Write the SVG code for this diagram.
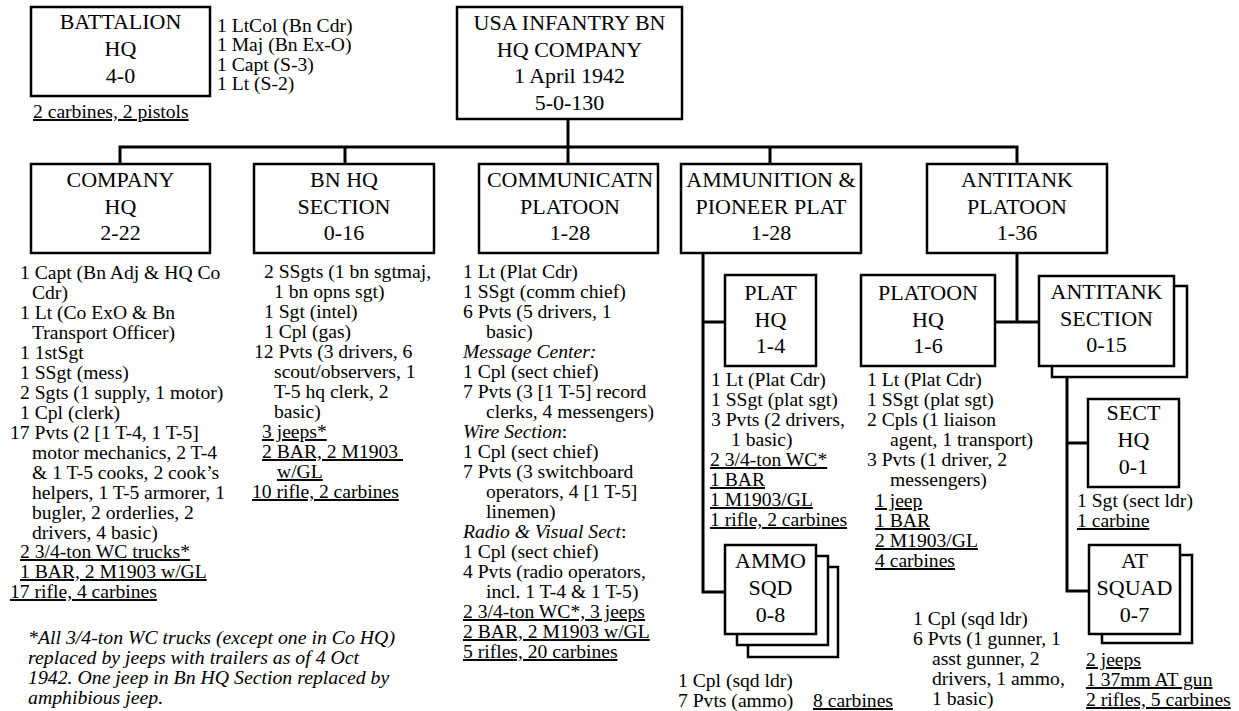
<svg xmlns="http://www.w3.org/2000/svg" width="1239" height="711" viewBox="0 0 1239 711">
<rect width="1239" height="711" fill="#fff"/>
<g id="connectors" stroke="#000" stroke-width="3" fill="none" stroke-linecap="square">
<path d="M568 119V147M120 147H1017M120 147V164M345 147V164M568 147V164M770 147V164M1017 147V164"/>
<path d="M703 253V592H725M703 322H725"/>
<path d="M1017 253V322M995 322H1039"/>
<path d="M1067 377V591H1089M1067 443H1088"/>
</g>
<g id="battalion-hq">
<rect x="31" y="7" width="179" height="89" fill="#fff" stroke="#000" stroke-width="2.5"/>
<text x="120.5" y="29" font-family="Liberation Serif" font-size="22" text-anchor="middle">BATTALION</text>
<text x="120.5" y="56" font-family="Liberation Serif" font-size="22" text-anchor="middle">HQ</text>
<text x="120.5" y="83" font-family="Liberation Serif" font-size="22" text-anchor="middle">4-0</text>
<text x="217" y="31.5" font-family="Liberation Serif" font-size="19.6">1 LtCol (Bn Cdr)</text>
<text x="217" y="51" font-family="Liberation Serif" font-size="19.6">1 Maj (Bn Ex-O)</text>
<text x="217" y="70.5" font-family="Liberation Serif" font-size="19.6">1 Capt (S-3)</text>
<text x="217" y="90" font-family="Liberation Serif" font-size="19.6">1 Lt (S-2)</text>
<text x="33" y="118" font-family="Liberation Serif" font-size="19.6" text-decoration="underline">2 carbines, 2 pistols</text>
</g>
<g id="hq-company">
<rect x="457" y="7" width="225" height="112" fill="#fff" stroke="#000" stroke-width="2.5"/>
<text x="569.5" y="30" font-family="Liberation Serif" font-size="22" text-anchor="middle">USA INFANTRY BN</text>
<text x="569.5" y="57" font-family="Liberation Serif" font-size="22" text-anchor="middle">HQ COMPANY</text>
<text x="569.5" y="83" font-family="Liberation Serif" font-size="22" text-anchor="middle">1 April 1942</text>
<text x="569.5" y="110" font-family="Liberation Serif" font-size="22" text-anchor="middle">5-0-130</text>
</g>
<g id="company-hq">
<rect x="31" y="164" width="179" height="89" fill="#fff" stroke="#000" stroke-width="2.5"/>
<text x="120.5" y="187" font-family="Liberation Serif" font-size="22" text-anchor="middle">COMPANY</text>
<text x="120.5" y="213.5" font-family="Liberation Serif" font-size="22" text-anchor="middle">HQ</text>
<text x="120.5" y="240" font-family="Liberation Serif" font-size="22" text-anchor="middle">2-22</text>
<text x="20" y="279" font-family="Liberation Serif" font-size="19.6">1 Capt (Bn Adj &amp; HQ Co</text>
<text x="32" y="299" font-family="Liberation Serif" font-size="19.6">Cdr)</text>
<text x="20" y="319" font-family="Liberation Serif" font-size="19.6">1 Lt (Co ExO &amp; Bn</text>
<text x="32" y="339" font-family="Liberation Serif" font-size="19.6">Transport Officer)</text>
<text x="20" y="359" font-family="Liberation Serif" font-size="19.6">1 1stSgt</text>
<text x="20" y="379" font-family="Liberation Serif" font-size="19.6">1 SSgt (mess)</text>
<text x="20" y="399" font-family="Liberation Serif" font-size="19.6">2 Sgts (1 supply, 1 motor)</text>
<text x="20" y="419" font-family="Liberation Serif" font-size="19.6">1 Cpl (clerk)</text>
<text x="10" y="439" font-family="Liberation Serif" font-size="19.6">17 Pvts (2 [1 T-4, 1 T-5]</text>
<text x="32" y="459" font-family="Liberation Serif" font-size="19.6">motor mechanics, 2 T-4</text>
<text x="32" y="479" font-family="Liberation Serif" font-size="19.6">&amp; 1 T-5 cooks, 2 cook&#8217;s</text>
<text x="32" y="499" font-family="Liberation Serif" font-size="19.6">helpers, 1 T-5 armorer, 1</text>
<text x="32" y="519" font-family="Liberation Serif" font-size="19.6">bugler, 2 orderlies, 2</text>
<text x="32" y="539" font-family="Liberation Serif" font-size="19.6">drivers, 4 basic)</text>
<text x="20" y="558" font-family="Liberation Serif" font-size="19.6" text-decoration="underline">2 3/4-ton WC trucks*</text>
<text x="20" y="578" font-family="Liberation Serif" font-size="19.6" text-decoration="underline">1 BAR, 2 M1903 w/GL</text>
<text x="10" y="598" font-family="Liberation Serif" font-size="19.6" text-decoration="underline">17 rifle, 4 carbines</text>
</g>
<g id="footnote">
<text x="28" y="644" font-family="Liberation Serif" font-size="19.8" font-style="italic">*All 3/4-ton WC trucks (except one in Co HQ)</text>
<text x="28" y="664" font-family="Liberation Serif" font-size="19.8" font-style="italic">replaced by jeeps with trailers as of 4 Oct</text>
<text x="28" y="684" font-family="Liberation Serif" font-size="19.8" font-style="italic">1942. One jeep in Bn HQ Section replaced by</text>
<text x="28" y="704" font-family="Liberation Serif" font-size="19.8" font-style="italic">amphibious jeep.</text>
</g>
<g id="bn-hq-section">
<rect x="254" y="164" width="180" height="89" fill="#fff" stroke="#000" stroke-width="2.5"/>
<text x="344" y="187" font-family="Liberation Serif" font-size="22" text-anchor="middle">BN HQ</text>
<text x="344" y="213.5" font-family="Liberation Serif" font-size="22" text-anchor="middle">SECTION</text>
<text x="344" y="240" font-family="Liberation Serif" font-size="22" text-anchor="middle">0-16</text>
<text x="264" y="278" font-family="Liberation Serif" font-size="19.6">2 SSgts (1 bn sgtmaj,</text>
<text x="274" y="298" font-family="Liberation Serif" font-size="19.6">1 bn opns sgt)</text>
<text x="264" y="318" font-family="Liberation Serif" font-size="19.6">1 Sgt (intel)</text>
<text x="264" y="338" font-family="Liberation Serif" font-size="19.6">1 Cpl (gas)</text>
<text x="254" y="358" font-family="Liberation Serif" font-size="19.6">12 Pvts (3 drivers, 6</text>
<text x="274" y="378" font-family="Liberation Serif" font-size="19.6">scout/observers, 1</text>
<text x="274" y="398" font-family="Liberation Serif" font-size="19.6">T-5 hq clerk, 2</text>
<text x="274" y="418" font-family="Liberation Serif" font-size="19.6">basic)</text>
<text x="262" y="438" font-family="Liberation Serif" font-size="19.6" text-decoration="underline">3 jeeps*</text>
<text x="262" y="458" font-family="Liberation Serif" font-size="19.6" text-decoration="underline" xml:space="preserve">2 BAR, 2 M1903 </text>
<text x="277" y="478" font-family="Liberation Serif" font-size="19.6" text-decoration="underline">w/GL</text>
<text x="252" y="498" font-family="Liberation Serif" font-size="19.6" text-decoration="underline">10 rifle, 2 carbines</text>
</g>
<g id="communication-platoon">
<rect x="479" y="164" width="179" height="89" fill="#fff" stroke="#000" stroke-width="2.5"/>
<text x="570" y="187" font-family="Liberation Serif" font-size="22" text-anchor="middle">COMMUNICATN</text>
<text x="570" y="213.5" font-family="Liberation Serif" font-size="22" text-anchor="middle">PLATOON</text>
<text x="570" y="240" font-family="Liberation Serif" font-size="22" text-anchor="middle">1-28</text>
<text x="463" y="278" font-family="Liberation Serif" font-size="19.6">1 Lt (Plat Cdr)</text>
<text x="463" y="298" font-family="Liberation Serif" font-size="19.6">1 SSgt (comm chief)</text>
<text x="463" y="318" font-family="Liberation Serif" font-size="19.6">6 Pvts (5 drivers, 1</text>
<text x="486" y="338" font-family="Liberation Serif" font-size="19.6">basic)</text>
<text x="463" y="358" font-family="Liberation Serif" font-size="19.6" font-style="italic">Message Center:</text>
<text x="463" y="378" font-family="Liberation Serif" font-size="19.6">1 Cpl (sect chief)</text>
<text x="463" y="398" font-family="Liberation Serif" font-size="19.6">7 Pvts (3 [1 T-5] record</text>
<text x="486" y="418" font-family="Liberation Serif" font-size="19.6">clerks, 4 messengers)</text>
<text x="463" y="438" font-family="Liberation Serif" font-size="19.6"><tspan font-style="italic">Wire Section</tspan>:</text>
<text x="463" y="458" font-family="Liberation Serif" font-size="19.6">1 Cpl (sect chief)</text>
<text x="463" y="478" font-family="Liberation Serif" font-size="19.6">7 Pvts (3 switchboard</text>
<text x="486" y="498" font-family="Liberation Serif" font-size="19.6">operators, 4 [1 T-5]</text>
<text x="486" y="518" font-family="Liberation Serif" font-size="19.6">linemen)</text>
<text x="463" y="538" font-family="Liberation Serif" font-size="19.6"><tspan font-style="italic">Radio &amp; Visual Sect</tspan>:</text>
<text x="463" y="558" font-family="Liberation Serif" font-size="19.6">1 Cpl (sect chief)</text>
<text x="463" y="578" font-family="Liberation Serif" font-size="19.6">4 Pvts (radio operators,</text>
<text x="486" y="598" font-family="Liberation Serif" font-size="19.6">incl. 1 T-4 &amp; 1 T-5)</text>
<text x="463" y="618" font-family="Liberation Serif" font-size="19.6" text-decoration="underline">2 3/4-ton WC*, 3 jeeps</text>
<text x="463" y="638" font-family="Liberation Serif" font-size="19.6" text-decoration="underline">2 BAR, 2 M1903 w/GL</text>
<text x="463" y="658" font-family="Liberation Serif" font-size="19.6" text-decoration="underline">5 rifles, 20 carbines</text>
</g>
<g id="ammunition-pioneer-platoon">
<rect x="681" y="164" width="180" height="89" fill="#fff" stroke="#000" stroke-width="2.5"/>
<text x="771" y="187" font-family="Liberation Serif" font-size="22" text-anchor="middle">AMMUNITION &amp;</text>
<text x="771" y="213.5" font-family="Liberation Serif" font-size="22" text-anchor="middle">PIONEER PLAT</text>
<text x="771" y="240" font-family="Liberation Serif" font-size="22" text-anchor="middle">1-28</text>
</g>
<g id="plat-hq">
<rect x="725" y="275" width="91" height="91" fill="#fff" stroke="#000" stroke-width="2.5"/>
<text x="770.5" y="300" font-family="Liberation Serif" font-size="22" text-anchor="middle">PLAT</text>
<text x="770.5" y="327" font-family="Liberation Serif" font-size="22" text-anchor="middle">HQ</text>
<text x="770.5" y="353" font-family="Liberation Serif" font-size="22" text-anchor="middle">1-4</text>
<text x="711" y="386" font-family="Liberation Serif" font-size="19.6">1 Lt (Plat Cdr)</text>
<text x="711" y="406" font-family="Liberation Serif" font-size="19.6">1 SSgt (plat sgt)</text>
<text x="711" y="426" font-family="Liberation Serif" font-size="19.6">3 Pvts (2 drivers,</text>
<text x="731" y="446" font-family="Liberation Serif" font-size="19.6">1 basic)</text>
<text x="710" y="466" font-family="Liberation Serif" font-size="19.6" text-decoration="underline">2 3/4-ton WC*</text>
<text x="710" y="486" font-family="Liberation Serif" font-size="19.6" text-decoration="underline">1 BAR</text>
<text x="710" y="506" font-family="Liberation Serif" font-size="19.6" text-decoration="underline">1 M1903/GL</text>
<text x="710" y="526" font-family="Liberation Serif" font-size="19.6" text-decoration="underline">1 rifle, 2 carbines</text>
</g>
<g id="ammo-sqd">
<rect x="748" y="567" width="90" height="90" fill="#fff" stroke="#000" stroke-width="2.5"/>
<rect x="737" y="556" width="91" height="89" fill="#fff" stroke="#000" stroke-width="2.5"/>
<rect x="725" y="545" width="91" height="89" fill="#fff" stroke="#000" stroke-width="2.5"/>
<text x="770.5" y="568" font-family="Liberation Serif" font-size="22" text-anchor="middle">AMMO</text>
<text x="770.5" y="595" font-family="Liberation Serif" font-size="22" text-anchor="middle">SQD</text>
<text x="770.5" y="622" font-family="Liberation Serif" font-size="22" text-anchor="middle">0-8</text>
<text x="678" y="687" font-family="Liberation Serif" font-size="19.6">1 Cpl (sqd ldr)</text>
<text x="678" y="707" font-family="Liberation Serif" font-size="19.6">7 Pvts (ammo)</text>
<text x="813" y="707" font-family="Liberation Serif" font-size="19.6" text-decoration="underline">8 carbines</text>
</g>
<g id="antitank-platoon">
<rect x="927" y="164" width="180" height="89" fill="#fff" stroke="#000" stroke-width="2.5"/>
<text x="1017" y="187" font-family="Liberation Serif" font-size="22" text-anchor="middle">ANTITANK</text>
<text x="1017" y="213.5" font-family="Liberation Serif" font-size="22" text-anchor="middle">PLATOON</text>
<text x="1017" y="240" font-family="Liberation Serif" font-size="22" text-anchor="middle">1-36</text>
</g>
<g id="platoon-hq">
<rect x="861" y="275" width="134" height="91" fill="#fff" stroke="#000" stroke-width="2.5"/>
<text x="928" y="300" font-family="Liberation Serif" font-size="22" text-anchor="middle">PLATOON</text>
<text x="928" y="327" font-family="Liberation Serif" font-size="22" text-anchor="middle">HQ</text>
<text x="928" y="353" font-family="Liberation Serif" font-size="22" text-anchor="middle">1-6</text>
<text x="867" y="386" font-family="Liberation Serif" font-size="19.6">1 Lt (Plat Cdr)</text>
<text x="867" y="406" font-family="Liberation Serif" font-size="19.6">1 SSgt (plat sgt)</text>
<text x="867" y="426" font-family="Liberation Serif" font-size="19.6">2 Cpls (1 liaison</text>
<text x="890" y="446" font-family="Liberation Serif" font-size="19.6">agent, 1 transport)</text>
<text x="867" y="466" font-family="Liberation Serif" font-size="19.6">3 Pvts (1 driver, 2</text>
<text x="890" y="486" font-family="Liberation Serif" font-size="19.6">messengers)</text>
<text x="875" y="507" font-family="Liberation Serif" font-size="19.6" text-decoration="underline">1 jeep</text>
<text x="875" y="527" font-family="Liberation Serif" font-size="19.6" text-decoration="underline">1 BAR</text>
<text x="875" y="547" font-family="Liberation Serif" font-size="19.6" text-decoration="underline">2 M1903/GL</text>
<text x="875" y="567" font-family="Liberation Serif" font-size="19.6" text-decoration="underline">4 carbines</text>
</g>
<g id="antitank-section">
<rect x="1052" y="286" width="135" height="91" fill="#fff" stroke="#000" stroke-width="2.5"/>
<rect x="1039" y="276" width="135" height="90" fill="#fff" stroke="#000" stroke-width="2.5"/>
<text x="1106.5" y="299" font-family="Liberation Serif" font-size="22" text-anchor="middle">ANTITANK</text>
<text x="1106.5" y="326" font-family="Liberation Serif" font-size="22" text-anchor="middle">SECTION</text>
<text x="1106.5" y="352" font-family="Liberation Serif" font-size="22" text-anchor="middle">0-15</text>
</g>
<g id="sect-hq">
<rect x="1088" y="399" width="91" height="88" fill="#fff" stroke="#000" stroke-width="2.5"/>
<text x="1133.5" y="420" font-family="Liberation Serif" font-size="22" text-anchor="middle">SECT</text>
<text x="1133.5" y="447" font-family="Liberation Serif" font-size="22" text-anchor="middle">HQ</text>
<text x="1133.5" y="474" font-family="Liberation Serif" font-size="22" text-anchor="middle">0-1</text>
<text x="1077" y="507" font-family="Liberation Serif" font-size="19.6">1 Sgt (sect ldr)</text>
<text x="1077" y="527" font-family="Liberation Serif" font-size="19.6" text-decoration="underline">1 carbine</text>
</g>
<g id="at-squad">
<rect x="1102" y="555" width="90" height="88" fill="#fff" stroke="#000" stroke-width="2.5"/>
<rect x="1089" y="545" width="91" height="89" fill="#fff" stroke="#000" stroke-width="2.5"/>
<text x="1134.5" y="568" font-family="Liberation Serif" font-size="22" text-anchor="middle">AT</text>
<text x="1134.5" y="595" font-family="Liberation Serif" font-size="22" text-anchor="middle">SQUAD</text>
<text x="1134.5" y="622" font-family="Liberation Serif" font-size="22" text-anchor="middle">0-7</text>
<text x="913" y="625" font-family="Liberation Serif" font-size="19.6">1 Cpl (sqd ldr)</text>
<text x="913" y="645" font-family="Liberation Serif" font-size="19.6">6 Pvts (1 gunner, 1</text>
<text x="932" y="665" font-family="Liberation Serif" font-size="19.6">asst gunner, 2</text>
<text x="932" y="685" font-family="Liberation Serif" font-size="19.6">drivers, 1 ammo,</text>
<text x="932" y="705" font-family="Liberation Serif" font-size="19.6">1 basic)</text>
<text x="1086" y="666" font-family="Liberation Serif" font-size="19.6" text-decoration="underline">2 jeeps</text>
<text x="1086" y="686" font-family="Liberation Serif" font-size="19.6" text-decoration="underline">1 37mm AT gun</text>
<text x="1086" y="706" font-family="Liberation Serif" font-size="19.6" text-decoration="underline">2 rifles, 5 carbines</text>
</g>
</svg>
